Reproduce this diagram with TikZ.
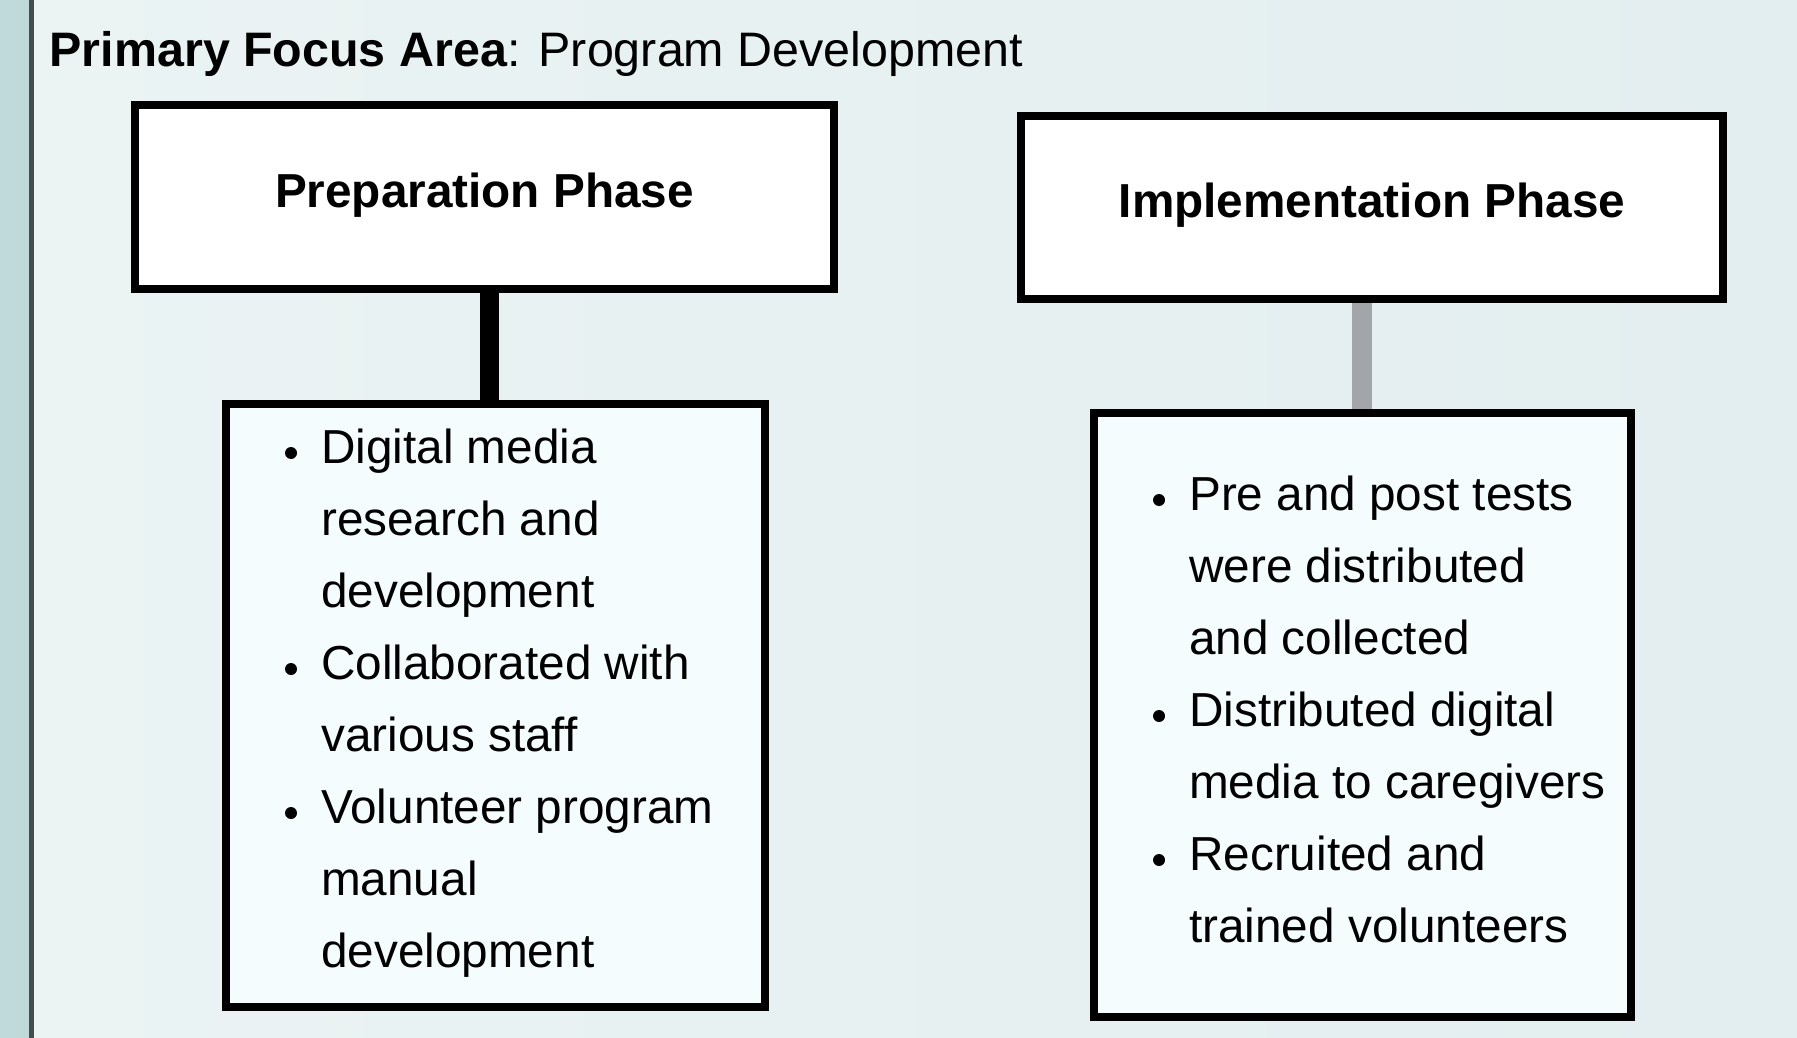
\documentclass[tikz,border=0pt]{standalone}
\usepackage{fontspec}
\setmainfont{Liberation Sans}
\usetikzlibrary{calc,backgrounds}
\definecolor{bgleft}{HTML}{EBF3F3}
\definecolor{bgright}{HTML}{E3EEF0}
\definecolor{stripcol}{HTML}{C0D9DB}
\definecolor{stripline}{HTML}{454C4E}
\definecolor{listfill}{HTML}{F4FCFD}
\definecolor{connGray}{HTML}{A2A6A8}
\tikzset{
  phasebox/.style={draw=black, line width=8pt, fill=white, inner sep=0pt},
  listbox/.style={draw=black, line width=8pt, fill=listfill, inner sep=0pt},
  bigtext/.style={inner sep=0pt, font=\fontsize{47.7}{72}\selectfont},
  phasetext/.style={bigtext, anchor=base, font=\fontsize{47.7}{72}\selectfont\bfseries},
  itemtext/.style={bigtext, anchor=base west},
  bulletdot/.style={fill=black},
  connblack/.style={draw=black, line width=19pt},
  conngray/.style={draw=connGray, line width=20pt}
}
\begin{document}
\begin{tikzpicture}[x=1pt,y=-1pt]
\useasboundingbox (0,0) rectangle (1797,1038);
% title
\node[inner sep=0pt, anchor=base west, font=\fontsize{48.4}{72}\selectfont] (title) at (49.5,67)
  {\textbf{Primary Focus Area}: Program Development};
% phase boxes
\node[phasebox, minimum width=699pt, minimum height=184.6pt] (prep) at (484.2,197.1) {};
\node[phasebox, minimum width=702.5pt, minimum height=182.5pt] (impl) at (1371.8,207.3) {};
\node[phasetext] (preptext) at (484.5,207.7) {Preparation Phase};
\node[phasetext] (impltext) at (1372,217.7) {Implementation Phase};
% list boxes
\node[listbox, minimum width=539.5pt, minimum height=603pt] (preplist) at (495.3,705.5) {};
\node[listbox, minimum width=537.5pt, minimum height=604pt] (impllist) at (1362.3,715) {};
% left list text
\node[itemtext] (p1) at (321,463) {Digital media};
\node[itemtext] (p2) at (321,535) {research and};
\node[itemtext] (p3) at (321,607) {development};
\node[itemtext] (p4) at (321,679) {Collaborated with};
\node[itemtext] (p5) at (321,751) {various staff};
\node[itemtext] (p6) at (321,823) {Volunteer program};
\node[itemtext] (p7) at (321,895) {manual};
\node[itemtext] (p8) at (321,967) {development};
\fill[bulletdot] (291,453) circle (6pt);
\fill[bulletdot] (291,669) circle (6pt);
\fill[bulletdot] (291,813) circle (6pt);
% right list text
\node[itemtext] (q1) at (1189,510) {Pre and post tests};
\node[itemtext] (q2) at (1189,582) {were distributed};
\node[itemtext] (q3) at (1189,654) {and collected};
\node[itemtext] (q4) at (1189,726) {Distributed digital};
\node[itemtext] (q5) at (1189,798) {media to caregivers};
\node[itemtext] (q6) at (1189,870) {Recruited and};
\node[itemtext] (q7) at (1189,942) {trained volunteers};
\fill[bulletdot] (1159,500) circle (6pt);
\fill[bulletdot] (1159,716) circle (6pt);
\fill[bulletdot] (1159,860) circle (6pt);
\begin{pgfonlayer}{background}
  \shade[left color=bgleft, right color=bgright] (34,0) rectangle (1797,1038);
  \fill[stripcol] (0,0) rectangle (29,1038);
  \fill[stripline] (29,0) rectangle (34,1038);
  \coordinate (m1) at ($(prep.south)!0.5!(preplist.north)$);
  \draw[connblack] (prep.south -| m1) -- (preplist.north -| m1);
  \draw[conngray] (impl.south -| impllist.north) -- (impllist.north);
\end{pgfonlayer}
\end{tikzpicture}
\end{document}
